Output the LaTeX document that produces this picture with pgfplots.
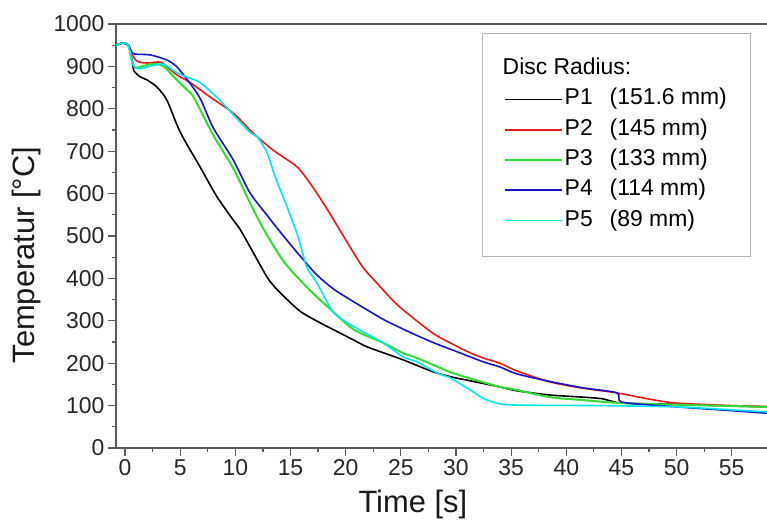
\documentclass[border=0pt]{standalone}
\usepackage{pgfplots}
\pgfplotsset{compat=1.18}
\usepackage{fontspec}
\setmainfont{Liberation Sans}
\definecolor{cP1}{RGB}{0,0,0}
\definecolor{cP2}{RGB}{235,25,25}
\definecolor{cP3}{RGB}{50,220,50}
\definecolor{cP4}{RGB}{20,20,200}
\definecolor{cP5}{RGB}{0,230,240}
\definecolor{axgray}{RGB}{90,90,90}
\begin{document}
\begin{tikzpicture}
\begin{axis}[
  scale only axis,
  width=651bp, height=424bp,
  xmin=-0.82, xmax=58.2, ymin=0, ymax=1000,
  axis x line=box, axis y line=left,
  axis line style={-, draw=axgray, line width=1.4bp},
  xtick={0,5,...,55}, ytick={0,100,...,1000},
  minor x tick num=1, minor y tick num=1,
  xtick pos=bottom, ytick pos=left,
  tick align=outside,
  major tick length=8bp, minor tick length=4bp,
  every tick/.style={draw=axgray, line width=1.2bp},
  /pgf/number format/assume math mode=true,
  /pgf/number format/1000 sep={},
  ticklabel style={font=\fontsize{23}{23}\selectfont, text=black!85},
  xlabel={Time [s]}, ylabel={Temperatur [°C]},
  label style={font=\fontsize{31}{31}\selectfont, text=black!90},
  xlabel style={at={(axis description cs:0.456,-0.134)}, anchor=center},
  ylabel style={at={(axis description cs:-0.137,0.455)}, anchor=center, rotate=0},
  legend cell align=left,
  legend style={at={(axis description cs:0.562,0.979)}, anchor=north west,
    draw=black!30, inner xsep=22bp, inner ysep=23bp,
    font=\fontsize{23}{27}\selectfont,
    nodes={inner sep=1.5bp, text depth=6bp, text height=17bp},
    row sep=4.3bp},
]
\addlegendimage{empty legend}
\addlegendentry{\hspace*{-62bp}Disc Radius:}
\addlegendimage{cP1, line width=1.6bp}
\addlegendentry{\makebox[45bp][l]{P1}(151.6 mm)}
\addlegendimage{cP2, line width=1.6bp}
\addlegendentry{\makebox[45bp][l]{P2}(145 mm)}
\addlegendimage{cP3, line width=2.2bp}
\addlegendentry{\makebox[45bp][l]{P3}(133 mm)}
\addlegendimage{cP4, line width=1.6bp}
\addlegendentry{\makebox[45bp][l]{P4}(114 mm)}
\addlegendimage{cP5, line width=1.6bp}
\addlegendentry{\makebox[45bp][l]{P5}(89 mm)}
\pgfplotsset{legend image post style={xscale=3.35}}
\addplot[cP1, line width=1.6bp, smooth, tension=0.45, forget plot] coordinates {
(-0.82,950)(-0.2,955)(0.3,950)(0.6,920)(0.8,890)(1.4,875)(2,868)(2.9,851)(3.8,820)(5,745)(6.8,663)(8.3,594)(9.8,538)(10.4,517)(11.3,476)(12.9,402)(13.8,373)(14.3,360)(15.9,322)(17.7,295)(18.6,283)(20.7,255)(22,238)(25.2,208)(27.9,180)(29.7,167)(31,160)(34,144)(35.5,135)(38.5,125)(41.5,120)(43.3,116)(45,106)(50,103)(55,99)(58.2,97)};
\addplot[cP2, line width=1.6bp, smooth, tension=0.45, forget plot] coordinates {
(-0.82,950)(-0.2,955)(0.3,950)(0.6,930)(1.1,912)(2,908)(3.2,910)(4,895)(4.7,880)(5.9,862)(7.7,828)(9.8,790)(11.6,743)(13.4,703)(15.6,663)(17,616)(18.4,560)(20.4,474)(21.6,425)(22.8,390)(24.8,335)(27.9,271)(29.7,245)(31,228)(32.5,212)(34,200)(35.5,182)(38.5,156)(41.5,141)(44.6,130)(47.6,115)(50,106)(55,100)(58.2,98)};
\addplot[cP3, line width=2bp, smooth, tension=0.45, forget plot] coordinates {
(-0.82,950)(-0.2,955)(0.3,950)(0.6,915)(0.9,897)(1.4,899)(2.5,906)(3.5,900)(4.7,868)(5.6,845)(6.2,828)(8.0,738)(9.8,660)(11.3,580)(12.5,519)(14.3,443)(15.9,395)(17.4,356)(18.3,335)(20.7,280)(23.4,248)(25.2,224)(26.5,212)(29.7,177)(32.5,155)(34,144)(35.5,137)(38.5,120)(41.5,113)(45,106)(50,102)(55,99)(58.2,97)};
\addplot[cP4, line width=1.6bp, smooth, tension=0.45, forget plot] coordinates {
(-0.82,950)(-0.2,955)(0.3,950)(0.6,935)(0.9,929)(2.3,927)(3.8,915)(4.7,899)(5.6,870)(6.8,825)(8.0,755)(9.8,680)(11.3,603)(12.9,548)(14.3,502)(15.9,452)(17.4,408)(18.9,375)(20.4,350)(22,325)(23.5,302)(25,283)(26.5,265)(28,248)(29.6,232)(32.5,203)(34,191)(35.5,175)(38.5,157)(41.5,142)(44.6,130)(45.1,108)(50,97)(55,88)(58.2,82)};
\addplot[cP5, line width=1.6bp, smooth, tension=0.45, forget plot] coordinates {
(-0.82,950)(-0.2,955)(0.3,950)(0.6,918)(0.9,897)(1.5,895)(2.5,902)(3.5,905)(4.7,885)(5.6,875)(6.8,862)(8.3,828)(9.5,795)(11.3,745)(12,734)(12.9,695)(13.6,640)(14.7,568)(15.6,505)(16.1,460)(16.5,425)(17.4,389)(18.9,320)(20.7,287)(23.4,248)(25.2,215)(26.5,203)(28.3,177)(29.5,165)(31.3,137)(32.5,117)(34,104)(36,101)(43,100)(50,97)(55,90)(58.2,85)};
\end{axis}
\pgfresetboundingbox
\path[use as bounding box] (-116bp,-74bp) rectangle (651bp,448bp);
\end{tikzpicture}
\end{document}
